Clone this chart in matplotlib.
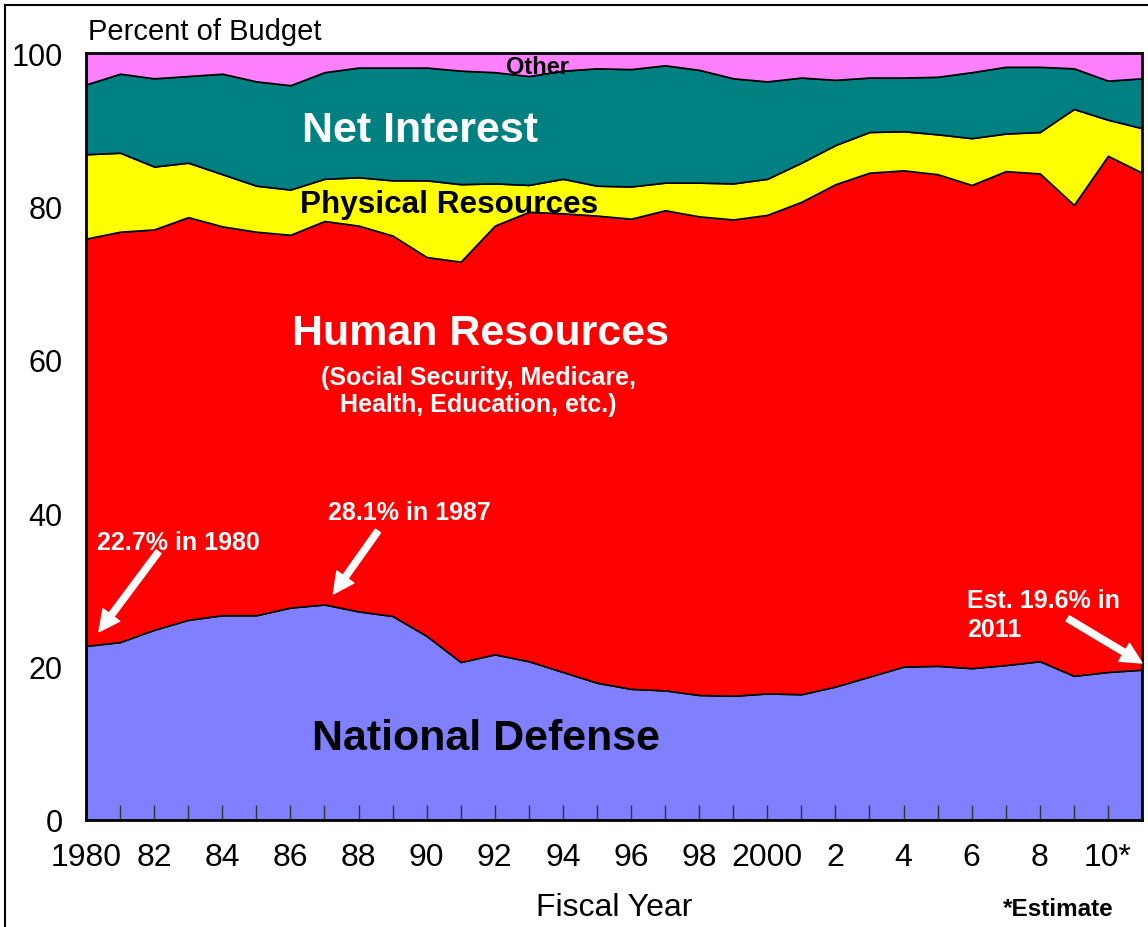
import numpy as np
import matplotlib.pyplot as plt
from matplotlib.lines import Line2D

years = np.arange(1980, 2012)
national_defense = [22.7, 23.2, 24.8, 26.1, 26.7, 26.7, 27.7, 28.1, 27.2, 26.6, 24.0, 20.6,
                    21.6, 20.7, 19.3, 17.9, 17.1, 16.9, 16.3, 16.2, 16.5, 16.4, 17.4, 18.7,
                    20.0, 20.1, 19.8, 20.2, 20.7, 18.8, 19.3, 19.6]
human_resources = [53.1, 53.5, 52.2, 52.5, 50.7, 50.0, 48.6, 50.0, 50.3, 49.6, 49.4, 52.2,
                   55.9, 58.6, 59.8, 60.9, 61.3, 62.6, 62.4, 62.1, 62.4, 64.2, 65.5, 65.7,
                   64.7, 64.1, 63.0, 64.4, 63.6, 61.4, 67.3, 64.8]
physical_resources = [11.0, 10.3, 8.2, 7.1, 6.8, 6.0, 5.9, 5.5, 6.3, 7.2, 10.0, 10.1,
                      5.5, 3.5, 4.5, 3.9, 4.2, 3.6, 4.4, 4.7, 4.7, 5.1, 5.1, 5.3,
                      5.1, 5.2, 6.1, 4.9, 5.4, 12.5, 4.7, 5.8]
net_interest = [9.1, 10.3, 11.5, 11.3, 13.1, 13.6, 13.6, 13.9, 14.3, 14.7, 14.7, 14.8,
                14.5, 14.2, 14.1, 15.3, 15.3, 15.3, 14.7, 13.7, 12.7, 11.1, 8.5, 7.1,
                7.0, 7.5, 8.6, 8.7, 8.5, 5.3, 5.1, 6.5]
other = [4.1, 2.7, 3.3, 3.0, 2.7, 3.7, 4.2, 2.5, 1.9, 1.9, 1.9, 2.3,
         2.5, 3.0, 2.3, 2.0, 2.1, 1.6, 2.2, 3.3, 3.7, 3.2, 3.5, 3.2,
         3.2, 3.1, 2.5, 1.8, 1.8, 2.0, 3.6, 3.3]
colors = ['#8080FF', '#FF0000', '#FFFF00', '#008080', '#FF80FF']

x_labels = ['1980', '82', '84', '86', '88', '90', '92', '94', '96', '98', '2000',
            '2', '4', '6', '8', '10*']

plt.rcParams['font.family'] = ['Liberation Sans', 'DejaVu Sans']

fig = plt.figure(figsize=(11.48, 9.28), dpi=100)
ax = fig.add_axes([86 / 1148, 107 / 928, 1056 / 1148, 767 / 928])

ax.stackplot(years, national_defense, human_resources, physical_resources,
             net_interest, other, colors=colors, edgecolor='black', linewidth=1.2)

ax.set_xlim(1980, 2011)
ax.set_ylim(0, 100)
ax.set_yticks(range(0, 101, 20))
ax.tick_params(axis='y', length=0, pad=17, labelsize=22)
tick_text = []
for yr in years:
    if yr % 2 == 0 and yr <= 2010:
        tick_text.append(x_labels[(yr - 1980) // 2])
    else:
        tick_text.append('')
ax.set_xticks(years)
ax.set_xticklabels(tick_text)
ax.tick_params(axis='x', direction='in', length=11, width=1, color='#333333',
               pad=16, labelsize=23)
for s in ax.spines.values():
    s.set_linewidth(2)

fig.text(88 / 1148, 1 - 39.5 / 928, 'Percent of Budget', fontsize=21, va='baseline')
fig.text(614 / 1148, 1 - 908 / 928, 'Fiscal Year', fontsize=23, ha='center', va='center')
fig.text(1058 / 1148, 1 - 910 / 928, '*Estimate', fontsize=17.5, fontweight='bold',
         ha='center', va='center')

ax.text(1989.81, 90.0, 'Net Interest', color='white', fontsize=31, fontweight='bold',
        ha='center', va='center')
ax.text(1990.66, 80.3, 'Physical Resources', color='black', fontsize=22.7, fontweight='bold',
        ha='center', va='center')
ax.text(1993.24, 98.2, 'Other', color='black', fontsize=17, fontweight='bold',
        ha='center', va='center')
ax.text(1991.57, 63.5, 'Human Resources', color='white', fontsize=31, fontweight='bold',
        ha='center', va='center')
ax.text(1991.51, 56.0, '(Social Security, Medicare,\nHealth, Education, etc.)', color='white',
        fontsize=18, fontweight='bold', ha='center', va='center', linespacing=1.2)
ax.text(1991.74, 10.7, 'National Defense', color='black', fontsize=31, fontweight='bold',
        ha='center', va='center')

arrow = dict(arrowstyle='simple,head_width=1.5,head_length=1.5,tail_width=0.45',
             color='white', shrinkA=0, shrinkB=0)
ax.text(1980.32, 36.2, '22.7% in 1980', color='white', fontsize=18, fontweight='bold',
        va='center')
ax.annotate('', xy=(1980.38, 24.55), xytext=(1982.13, 34.98), arrowprops=arrow)
ax.text(1987.1, 40.2, '28.1% in 1987', color='white', fontsize=18, fontweight='bold',
        va='center')
ax.annotate('', xy=(1987.26, 29.47), xytext=(1988.57, 37.68), arrowprops=arrow)
ax.text(2005.87, 26.8, 'Est. 19.6% in\n2011', color='white', fontsize=18, fontweight='bold',
        va='center', linespacing=1.25)
ax.annotate('', xy=(2011.0, 20.47), xytext=(2008.82, 26.27), arrowprops=arrow,
            annotation_clip=False)

# outer frame
fig.add_artist(Line2D([5 / 1148, 5 / 1148], [0, 1 - 6 / 928], color='black', lw=1.5,
                      transform=fig.transFigure))
fig.add_artist(Line2D([5 / 1148, 1], [1 - 6 / 928, 1 - 6 / 928], color='black', lw=1.5,
                      transform=fig.transFigure))

fig.savefig('out.png', dpi=100)
